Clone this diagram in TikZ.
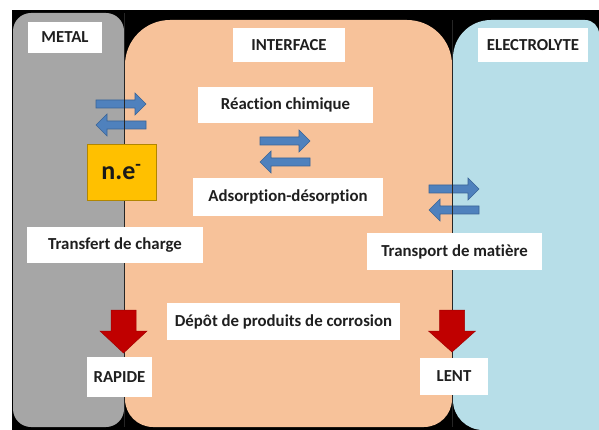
\documentclass[tikz,border=0pt]{standalone}
\usepackage{fontspec}
\setmainfont{Carlito}[Ligatures=NoCommon]
\usepackage{xcolor}
\usepackage{tikz}

\definecolor{metalgris}{HTML}{A6A6A6}
\definecolor{interorange}{HTML}{F7C29A}
\definecolor{electrobleu}{HTML}{B7DEE8}
\definecolor{flechebleu}{HTML}{4F81BD}
\definecolor{flechebord}{HTML}{3A6496}
\definecolor{rougefleche}{HTML}{C00000}
\definecolor{chargeor}{HTML}{FFC000}

\tikzset{
  etiquette/.style={fill=white, inner sep=0pt, text=black!88,
    font=\bfseries\fontsize{16.8}{20}\selectfont},
  flechebleue/.style={fill=flechebleu, draw=flechebord, line width=0.6pt},
  flecherouge/.style={fill=rougefleche, draw=rougefleche!85!black, line width=0.5pt},
  separation/.style={draw=black!85, line width=1pt}
}

% fleches doubles (extremite gauche, centre y)
\newcommand{\flecheversdroite}[2]{%
  \draw[flechebleue] (#1,#2-4) -- (#1+39,#2-4) -- (#1+39,#2-11) -- (#1+50,#2)
    -- (#1+39,#2+11) -- (#1+39,#2+4) -- (#1,#2+4) -- cycle;}
\newcommand{\flecheversgauche}[2]{%
  \draw[flechebleue] (#1+50,#2-4) -- (#1+11,#2-4) -- (#1+11,#2-11) -- (#1,#2)
    -- (#1+11,#2+11) -- (#1+11,#2+4) -- (#1+50,#2+4) -- cycle;}
% fleche rouge (centre x, pointe y)
\newcommand{\flechebas}[2]{%
  \draw[flecherouge] (#1-12.5,310) -- (#1+12.5,310) -- (#1+12.5,331) -- (#1+23.5,331)
    -- (#1,#2) -- (#1-23.5,331) -- (#1-12.5,331) -- cycle;}

\begin{document}
\begin{tikzpicture}[x=1pt, y=-1pt]
  \useasboundingbox (0,0) rectangle (599,430);
  \fill[white] (0,0) rectangle (599,430);
  \fill[black] (12,10) rectangle (599,430);

  \fill[metalgris, rounded corners=18pt] (13,13) rectangle (124,427);
  \fill[interorange] (125,250) [rounded corners=45pt] -- (125,20) -- (452,20) -- (452,250)
    [rounded corners=28pt] -- (452,427) -- (125,427) -- cycle;
  \fill[electrobleu] (453,250) [rounded corners=38pt] -- (453,20) -- (540,20)
    [rounded corners=14pt] -- (599,20) -- (599,200)
    [sharp corners] -- (599,430) -- (540,430)
    [rounded corners=30pt] -- (453,430) -- cycle;

  \flecheversdroite{96}{104}
  \flecheversgauche{96}{125}
  \flecheversdroite{260}{141}
  \flecheversgauche{260}{162}
  \flecheversdroite{429}{189}
  \flecheversgauche{429}{210}

  \draw[separation] (124.5,13) -- (124.5,427);
  \draw[separation] (452.5,20) -- (452.5,427);

  \flechebas{123.5}{353}
  \flechebas{452}{352}

  \node[etiquette, minimum width=74, minimum height=31] (metal) at (65,37.5) {METAL};
  \node[etiquette, minimum width=112, minimum height=34] (interface) at (289,45) {INTERFACE};
  \node[etiquette, minimum width=110, minimum height=34] (electrolyte) at (533,45) {ELECTROLYTE};

  \node[etiquette, minimum width=175, minimum height=36] (reaction) at (285.5,105) {Réaction chimique};
  \node[etiquette, minimum width=190, minimum height=38] (adsorption) at (288,197) {Adsorption-désorption};
  \node[etiquette, minimum width=176, minimum height=36] (transfert) at (115,245) {Transfert de charge};
  \node[etiquette, minimum width=175, minimum height=37] (transport) at (454.5,251.5) {Transport de matière};
  \node[etiquette, minimum width=233, minimum height=37] (depot) at (283.5,321.5) {Dépôt de produits de corrosion};
  \node[etiquette, minimum width=65, minimum height=40] (rapide) at (119.5,377) {RAPIDE};
  \node[etiquette, minimum width=68, minimum height=37] (lent) at (454,376.5) {LENT};

  \node[fill=chargeor, draw=chargeor!70!black, line width=0.8pt, inner sep=0pt,
    minimum width=69, minimum height=56, font=\bfseries\fontsize{26}{30}\selectfont,
    text=black!90] (charge) at (121.5,172) {n.e\textsuperscript{-}};
\end{tikzpicture}
\end{document}
